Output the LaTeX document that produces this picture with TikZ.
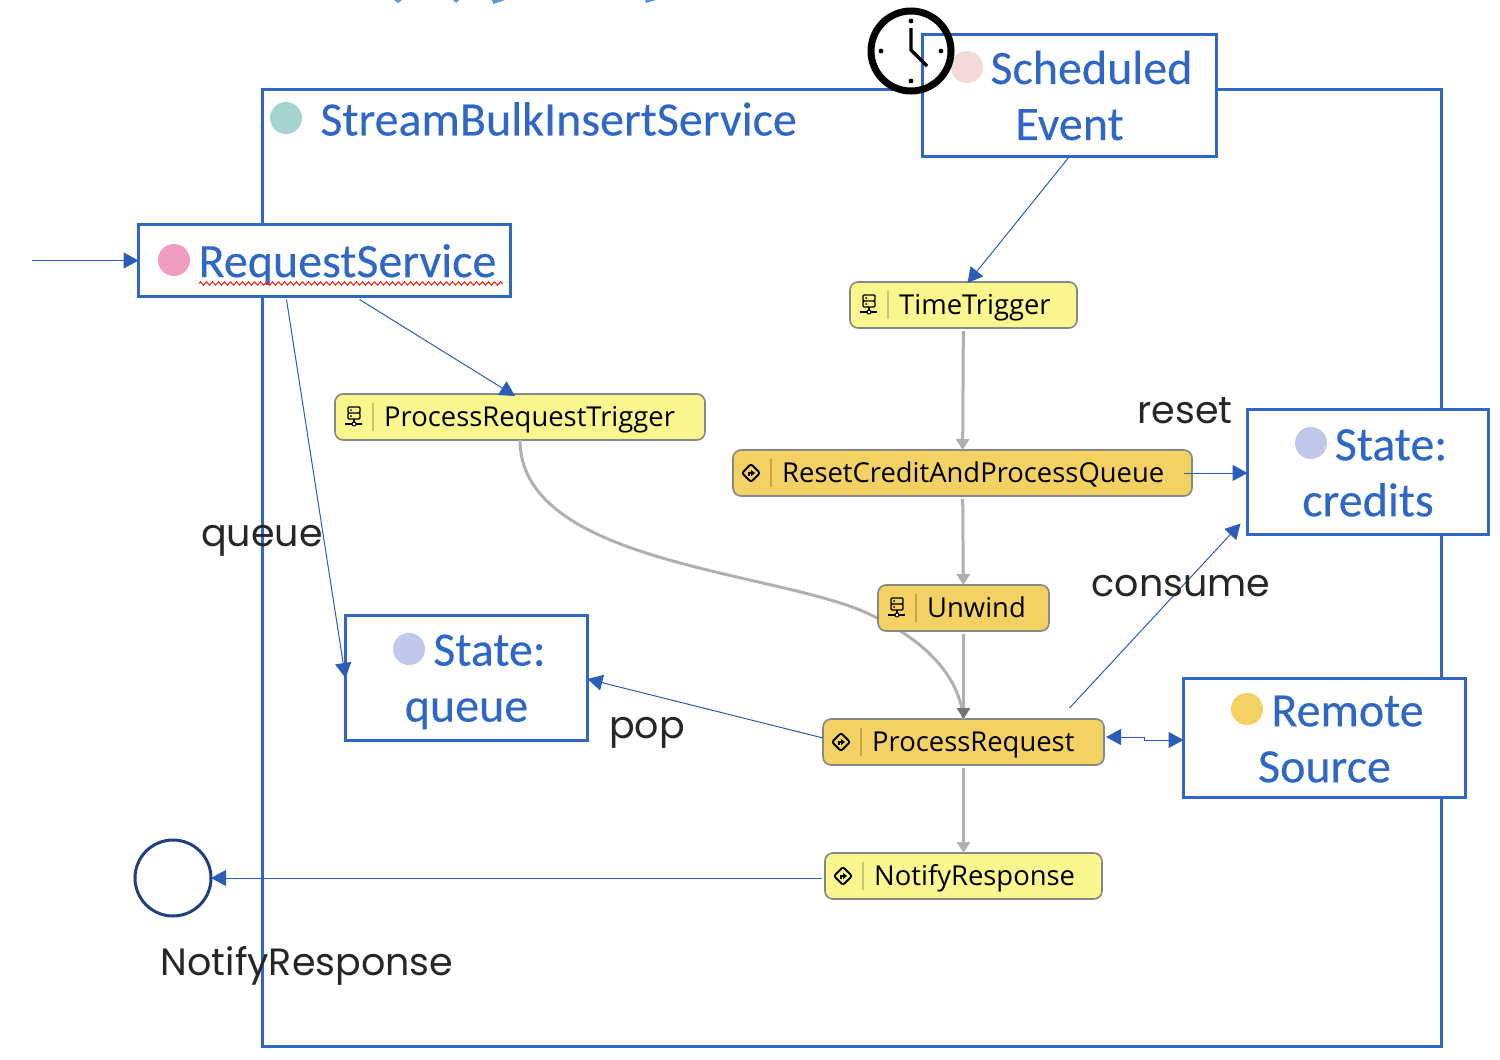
\documentclass[tikz,border=0pt]{standalone}
\usepackage{fontspec}
\setmainfont{Carlito}[FakeBold=.25]
\newfontfamily\stagefont{Open Sans}
\newfontfamily\labelfont{Poppins}
\usetikzlibrary{arrows.meta,decorations.pathmorphing}
\definecolor{boxblue}{HTML}{2F67C6}
\definecolor{linkblue}{HTML}{2B5CB8}
\definecolor{stageyellow}{HTML}{FBF78F}
\definecolor{stageorange}{HTML}{F3D163}
\definecolor{flowgray}{HTML}{B0B0B0}
\definecolor{dotteal}{HTML}{A6D4CF}
\definecolor{dotrose}{HTML}{F4D9DA}
\definecolor{dotpink}{HTML}{EF9DC0}
\definecolor{dotblue}{HTML}{C0C9EC}
\newcommand{\firstline}[1]{\rule{0pt}{#1}}
\tikzset{
  blockbox/.style={draw=boxblue,line width=1.5pt,fill=white,text=boxblue,outer sep=0pt,
    font=\fontsize{24pt}{28pt}\selectfont,align=center,inner sep=0pt},
  blockdot/.style={circle,inner sep=0pt,minimum size=16pt},
  stagenode/.style={draw=black!47,line width=.8pt,rounded corners=4pt,outer sep=0pt,
    minimum height=23pt,inner xsep=0pt,inner ysep=0pt,align=left,text height=11pt,text depth=2pt,
    font=\stagefont\fontsize{13.7pt}{16pt}\selectfont,
    execute at begin node=\hspace*{24.6pt}},
  edgelabel/.style={font=\labelfont\fontsize{19pt}{22pt}\selectfont,text=black!85,inner sep=0pt},
  flow/.style={draw=flowgray,line width=1.5pt,shorten <=1.5pt,-{Triangle[length=5.5pt,width=6.5pt]}},
  link/.style={draw=linkblue,line width=.5pt,-{Triangle[length=7.5pt,width=8pt,fill=linkblue]}},
  serverpic/.pic={
    \draw[black,opacity=.2,line width=.6pt] (38,-14) -- (38,14);
    \draw[line width=.7pt,rounded corners=.6pt] (13,-10) rectangle (25,-4) (13,-4) rectangle (25,2);
    \draw[line width=.7pt] (19,2) -- (19,7) (10,7) -- (27,7);
    \fill (16,-7) circle (.5pt) (16,-1) circle (.5pt);
    \filldraw[fill=white,line width=.5pt] (19,7) circle (1pt);
  },
  routepic/.pic={
    \draw[black,opacity=.2,line width=.6pt] (38,-14) -- (38,14);
    \draw[line width=.9pt,rounded corners=1pt] (18,-9) -- (27,0) -- (18,9) -- (9,0) -- cycle;
    \draw[line width=.7pt,-{Triangle[length=2pt,width=3pt]}] (16,3) -- (16,0) -- (22,0);
  }
}
\begin{document}
\begin{tikzpicture}[x=.5pt,y=-.5pt]
  \useasboundingbox (0,0) rectangle (1500,1060);
  \node[draw=boxblue,line width=1.5pt,minimum width=589.5pt,minimum height=478.5pt] (service) at (851.5,567.5) {};
  \node[text=boxblue,font=\fontsize{24pt}{28pt}\selectfont,anchor=west,inner sep=0pt] (servicetitle) at (320,119) {StreamBulkInsertService};
  \node[blockdot,fill=dotteal] (servicedot) at (286,118) {};
  % flow between stages
  \node[stagenode,fill=stageyellow,text width=113.5pt] (timetrigger) at (963.5,305) {TimeTrigger};
  \node[stagenode,fill=stageyellow,text width=185pt] (requesttrigger) at (520,417) {ProcessRequestTrigger};
  \node[stagenode,fill=stageorange,text width=229.5pt] (resetcredit) at (962.5,473) {ResetCreditAndProcessQueue};
  \node[stagenode,fill=stageorange,text width=140.5pt] (processrequest) at (963.5,742) {ProcessRequest};
  \node[stagenode,fill=stageyellow,text width=138.5pt] (notifyresponse) at (963.5,876) {NotifyResponse};
  \draw[flowgray,line width=1.5pt] (requesttrigger.south) .. controls (520,560) and (760,570) .. (860,610)
    .. controls (930,640) and (960,680) .. (processrequest.north);
  \node[stagenode,fill=stageorange,text width=85.5pt] (unwind) at (963.5,608) {Unwind};
  \begin{scope}[every path/.style={flow}]
    \draw (timetrigger) -- (resetcredit);
    \draw (resetcredit) -- (unwind);
    \draw[-{Triangle[length=5.5pt,width=6.5pt,color=black!55]}] (unwind) -- (processrequest);
    \draw (processrequest) -- (notifyresponse);
  \end{scope}
  \pic at (timetrigger.west) {serverpic};
  \pic at (requesttrigger.west) {serverpic};
  \pic at (unwind.west) {serverpic};
  \pic at (resetcredit.west) {routepic};
  \pic at (processrequest.west) {routepic};
  \pic at (notifyresponse.west) {routepic};
  % blocks
  \node[blockbox,minimum width=147pt,minimum height=61pt] (scheduled) at (1069.5,95.5) {\hspace*{22pt}Scheduled\\Event};
  \node[blockdot,fill=dotrose] (scheduleddot) at (967,67) {};
  \node[blockbox,minimum width=186pt,minimum height=36pt] (requestservice) at (324.5,260.5) {\firstline{20.5pt}\hspace*{23pt}RequestService};
  \node[blockdot,fill=dotpink] (requestdot) at (174,260) {};
  \draw[red!80!orange,line width=.5pt,decorate,decoration={zigzag,amplitude=.8pt,segment length=3pt}]
    ([xshift=-62.75pt,yshift=-11.5pt]requestservice.center) -- ([xshift=89pt,yshift=-11.5pt]requestservice.center);
  \node[blockbox,minimum width=120.5pt,minimum height=62.5pt] (statecredits) at (1368,472) {\firstline{16.5pt}\hspace*{23pt}State:\\credits};
  \node[blockdot,fill=dotblue] (creditsdot) at (1311,443) {};
  \node[blockbox,minimum width=121pt,minimum height=62.5pt] (statequeue) at (466.5,678) {\firstline{19.5pt}\hspace*{23pt}State:\\queue};
  \node[blockdot,fill=dotblue] (queuedot) at (409,649) {};
  \node[blockbox,minimum width=141pt,minimum height=59.5pt] (remotesource) at (1324.5,738) {\firstline{16.5pt}\hspace*{23pt}Remote\\Source};
  \node[blockdot,fill=stageorange] (remotedot) at (1247,709) {};
  \node[circle,draw=linkblue!70!black,line width=1.5pt,outer sep=0pt,minimum size=38pt,inner sep=0pt] (endstate) at (173,878) {};
  \coordinate (startpoint) at (32,260.5);
  % links
  \begin{scope}[every path/.style={link}]
    \draw (startpoint) -- (requestservice.west);
    \draw (scheduled.south) -- ([xshift=2pt,yshift=-.5pt]timetrigger.north);
    \draw ([xshift=17.5pt,yshift=-1.5pt]requestservice.south) -- ([xshift=-2.5pt,yshift=-1pt]requesttrigger.north);
    \draw ([xshift=-19pt,yshift=-1.5pt]requestservice.south) -- (statequeue.west);
    \draw ([xshift=-4pt]resetcredit.east) -- (statecredits.west |- resetcredit.east);
    \draw ([xshift=53pt,yshift=5.5pt]processrequest.north) -- ([xshift=-3.5pt,yshift=5.5pt]statecredits.south west);
    \draw ([yshift=2pt]processrequest.west) -- ([yshift=-.5pt]statequeue.east);
    \draw ([xshift=-1.5pt,yshift=-1pt]notifyresponse.west) -- (endstate.east);
    \draw[{Triangle[length=7.5pt,width=8pt,fill=linkblue]}-{Triangle[length=7.5pt,width=8pt,fill=linkblue]}]
      ([xshift=1pt,yshift=2.5pt]processrequest.east) -- ++(38,0) -- ++(0,3) -- ([yshift=-1pt]remotesource.west);
  \end{scope}
  % labels
  \node[edgelabel] (queuelabel) at (262,541) {queue};
  \node[edgelabel] (resetlabel) at (1185,411) {reset};
  \node[edgelabel] (consumelabel) at (1181,586) {consume};
  \node[edgelabel] (poplabel) at (647,733) {pop};
  \node[edgelabel] (endlabel) at (307,966) {NotifyResponse};
  % clock
  \node[circle,draw=black,line width=3.5pt,minimum size=40pt,inner sep=0pt] (clock) at (911,51) {};
  \draw[line width=1.7pt] (911,28) -- (911,50) -- (927,66);
  \foreach \a in {0,90,180,270}
    \fill (clock.center) ++(\a:30) circle (1.2pt);
  % cut off marks along the top edge
  \fill[cyan!60!blue!70!white] (394,0) -- (402,0) -- (398,3) -- cycle (453,0) -- (459,0) -- (456,3) -- cycle
    (492,0) -- (505,0) -- (493,4) -- cycle (645,0) -- (656,0) -- (646,3) -- cycle;
\end{tikzpicture}
\end{document}
